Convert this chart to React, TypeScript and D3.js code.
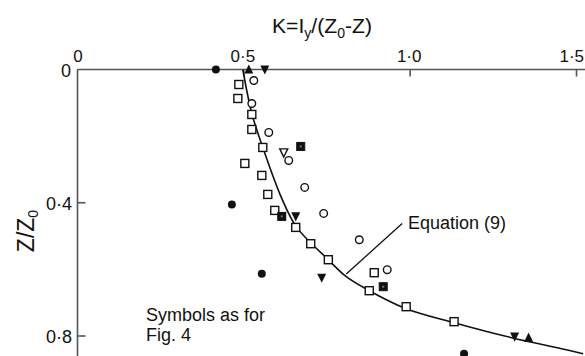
import React from "react";
import * as d3 from "d3";

// K values (x) and Z/Z0 values (y) per symbol series
const filledCircleK = [0.416, 0.464, 0.554, 1.162];
const filledCircleZ = [0.0, 0.405, 0.613, 0.853];
const filledTriUpK = [0.515, 1.356];
const filledTriUpZ = [0.0, 0.805];
const filledTriDownK = [0.563, 0.656, 0.734, 1.314];
const filledTriDownZ = [0.0, 0.441, 0.625, 0.802];
const openTriK = [0.62];
const openTriZ = [0.249];
const filledSquareK = [0.671, 0.614, 0.919];
const filledSquareZ = [0.231, 0.441, 0.652];
const openCircleK = [0.53, 0.524, 0.575, 0.635, 0.683, 0.74, 0.847, 0.931];
const openCircleZ = [0.033, 0.102, 0.189, 0.273, 0.354, 0.432, 0.511, 0.601];
const openSquareK = [0.485, 0.482, 0.524, 0.524, 0.557, 0.503, 0.554, 0.572, 0.593, 0.656, 0.701, 0.754, 0.892, 0.877, 0.988, 1.132];
const openSquareZ = [0.045, 0.087, 0.135, 0.18, 0.234, 0.282, 0.318, 0.375, 0.423, 0.474, 0.523, 0.571, 0.61, 0.664, 0.712, 0.757];

// Equation (9) curve
const curveK = [0.497, 0.524, 0.557, 0.614, 0.659, 0.754, 0.808, 0.877, 0.988, 1.132, 1.305, 1.455, 1.52];
const curveZ = [0.0, 0.132, 0.234, 0.387, 0.474, 0.571, 0.622, 0.664, 0.718, 0.76, 0.805, 0.838, 0.853];

const xTicks = [0, 0.5, 1.0, 1.5];
const xTickLabels = ["0", "0·5", "1·0", "1·5"];
const yTicks = [0, 0.4, 0.8];
const yTickLabels = ["0", "0·4", "0·8"];

const W = 585;
const H = 356;
const FONT = "'Liberation Sans', Arial, Helvetica, sans-serif";
const INK = "#111";
const AXIS = "#555";

export default function App() {
  const x = d3.scaleLinear().domain([0, 1.5]).range([77.5, 576.5]);
  const y = d3.scaleLinear().domain([0, 0.8]).range([69.5, 336]);

  const line = d3
    .line<number>()
    .x((i) => x(curveK[i]))
    .y((i) => y(curveZ[i]))
    .curve(d3.curveCatmullRom.alpha(0.5));
  const curvePath = line(curveK.map((_, i) => i)) || "";

  const pts = (ks: number[], zs: number[]) => ks.map((k, i) => [x(k), y(zs[i])] as [number, number]);

  const tri = (cx: number, cy: number, up: boolean, s: number) => {
    const h = s * 0.9;
    return up
      ? `M${cx},${cy - h / 2 - 1} L${cx + s / 2},${cy + h / 2} L${cx - s / 2},${cy + h / 2} Z`
      : `M${cx},${cy + h / 2 + 1} L${cx + s / 2},${cy - h / 2} L${cx - s / 2},${cy - h / 2} Z`;
  };

  // leader line endpoints for the Equation (9) label
  const leadK0 = 0.808, leadZ0 = 0.614;
  const leadK1 = 0.976, leadZ1 = 0.462;

  return (
    <svg width={W} height={H} style={{ position: "absolute", left: 0, top: 0, background: "#fff" }} fontFamily={FONT}>
      <rect x={0} y={0} width={W} height={H} fill="#fff" />
      {/* Title */}
      <text x={322} y={33} textAnchor="middle" fontSize={21} fill={INK} textLength={100} lengthAdjust="spacingAndGlyphs">
        K=I<tspan fontSize={14} dy={5}>y</tspan>
        <tspan dy={-5}>/(Z</tspan>
        <tspan fontSize={14} dy={5}>0</tspan>
        <tspan dy={-5}>-Z)</tspan>
      </text>

      {/* Axes */}
      <line x1={x(0)} x2={W} y1={y(0)} y2={y(0)} stroke={AXIS} strokeWidth={1.6} />
      <line x1={x(0)} x2={x(0)} y1={y(0)} y2={H} stroke={AXIS} strokeWidth={1.6} />

      {xTicks.map((t, i) => (
        <g key={"xt" + i}>
          {t > 0 && <line x1={x(t)} x2={x(t)} y1={y(0)} y2={y(0) + 7} stroke={AXIS} strokeWidth={1.6} />}
          <text
            x={t === 0 ? x(t) + 0.5 : t === 1.5 ? 584 : x(t) - 1}
            y={62}
            textAnchor={t === 1.5 ? "end" : "middle"}
            fontSize={17}
            fill={INK}
          >
            {xTickLabels[i]}
          </text>
        </g>
      ))}
      {yTicks.map((t, i) => (
        <g key={"yt" + i}>
          {t > 0 && <line x1={x(0)} x2={x(0) + 8} y1={y(t)} y2={y(t)} stroke={AXIS} strokeWidth={1.6} />}
          <text x={t === 0 ? 71 : 72} y={t === 0 ? 77 : y(t) + 7} textAnchor="end" fontSize={18} fill={INK}>
            {yTickLabels[i]}
          </text>
        </g>
      ))}

      {/* Y label */}
      <text transform="translate(34,231) rotate(-90)" textAnchor="middle" fontSize={23} fill={INK}>
        Z/Z<tspan fontSize={14} dy={4}>0</tspan>
      </text>

      {/* Curve */}
      <path d={curvePath} fill="none" stroke={INK} strokeWidth={1.6} />
      <line x1={x(leadK0)} y1={y(leadZ0)} x2={x(leadK1)} y2={y(leadZ1)} stroke={INK} strokeWidth={1.3} />
      <text x={408} y={229} fontSize={18} fill={INK}>Equation (9)</text>

      <text x={146} y={321} fontSize={18} fill={INK}>Symbols as for</text>
      <text x={146} y={341} fontSize={18} fill={INK}>Fig. 4</text>

      {/* Markers */}
      {pts(openSquareK, openSquareZ).map(([cx, cy], i) => (
        <rect key={"os" + i} x={cx - 4} y={cy - 4} width={8} height={8} fill="#fff" stroke={INK} strokeWidth={1.4} />
      ))}
      {pts(openCircleK, openCircleZ).map(([cx, cy], i) => (
        <circle key={"oc" + i} cx={cx} cy={cy} r={3.8} fill="#fff" stroke={INK} strokeWidth={1.4} />
      ))}
      {pts(filledSquareK, filledSquareZ).map(([cx, cy], i) => (
        <g key={"fs" + i}>
          <rect x={cx - 4} y={cy - 4} width={8} height={8} fill={INK} stroke={INK} strokeWidth={1} />
          <rect x={cx - 1} y={cy - 1} width={2} height={2} fill="#777" />
        </g>
      ))}
      {pts(openTriK, openTriZ).map(([cx, cy], i) => (
        <path key={"ot" + i} d={tri(cx, cy, false, 8)} fill="#fff" stroke={INK} strokeWidth={1.4} />
      ))}
      {pts(filledTriDownK, filledTriDownZ).map(([cx, cy], i) => (
        <path key={"td" + i} d={tri(cx, cy, false, 9)} fill={INK} />
      ))}
      {pts(filledTriUpK, filledTriUpZ).map(([cx, cy], i) => (
        <path key={"tu" + i} d={tri(cx, cy, true, 9)} fill={INK} />
      ))}
      {pts(filledCircleK, filledCircleZ).map(([cx, cy], i) => (
        <circle key={"fc" + i} cx={cx} cy={cy} r={4} fill={INK} />
      ))}
    </svg>
  );
}
